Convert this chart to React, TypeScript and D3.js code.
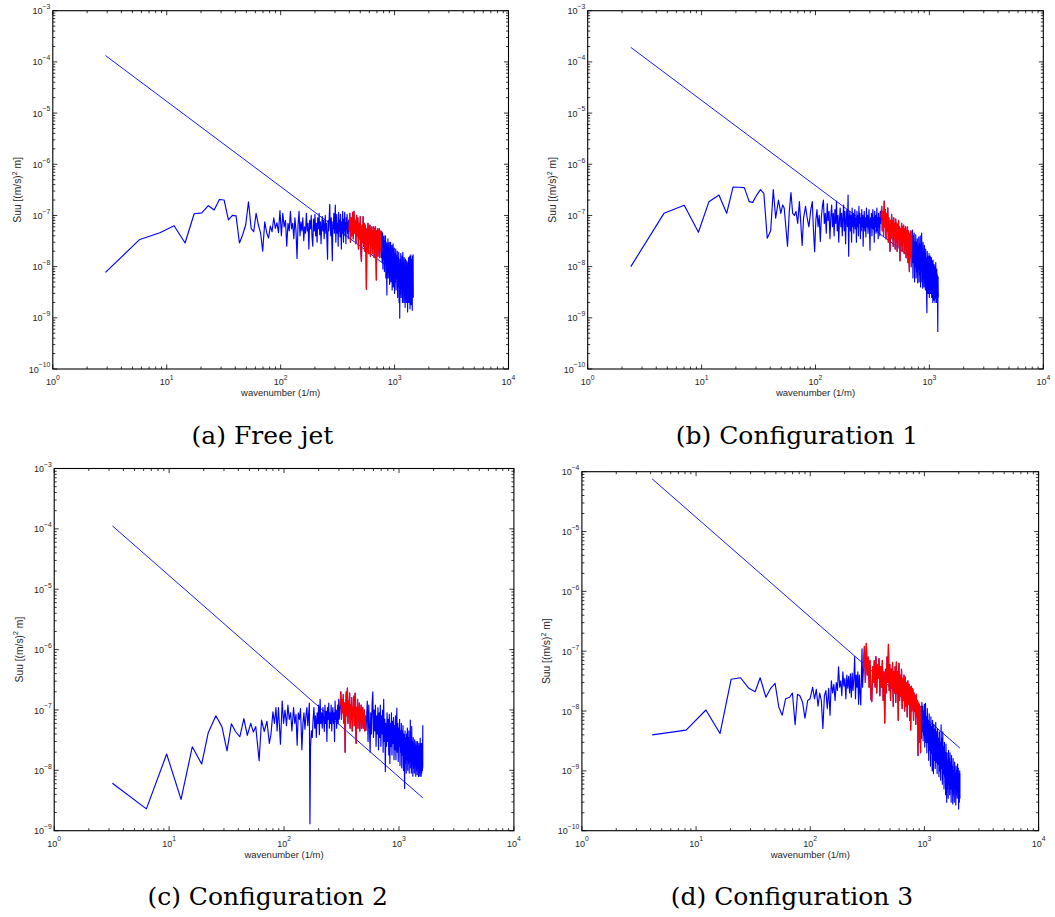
import React from 'react';
import * as d3 from 'd3';

type Pt = [number, number];

// ---------- (a) Free jet ----------
const freeJetLow: Pt[] = [[2.9,7.7e-9],[5.8,3.4e-8],[8.7,4.6e-8],[11.6,6.3e-8],[14.5,2.9e-8],[17.4,1.08e-7],[20.3,1.12e-7],[23.2,1.55e-7],[26.1,1.28e-7],[29,2.05e-7],[31.9,2.0e-7],[34.8,8.2e-8],[37.7,1.0e-7],[40.6,9.8e-8],[43.5,2.9e-8],[46.4,4.2e-8],[49.3,6.5e-8],[52.2,1.85e-7],[55.1,5.6e-8],[58,4.8e-8],[60.9,1.1e-7],[63.8,6.5e-8],[66.7,4.5e-8],[69.6,2.0e-8],[72.5,7.5e-8],[75.4,4.6e-8],[78.3,3.6e-8],[81.2,6.2e-8],[84.1,4.8e-8],[87,9e-8],[89.9,5.6e-8],[92.8,7.2e-8],[95.7,4.6e-8],[98.6,1.25e-7],
[101.5,4e-8],[104.4,1.1e-7],[107.3,6e-8],[110.2,8e-8],[113.1,2.5e-8],[116,7e-8],[118.9,5e-8],[121.8,1.2e-7],[124.7,5.5e-8],[127.6,7e-8],[130.5,3.5e-8],[133.4,9e-8],[136.3,5e-8],[139.2,1.45e-8],[142.1,6.5e-8],[145,1.2e-7],[147.9,4e-8],[150.8,7.5e-8],[153.7,5e-8],[156.6,9e-8],[159.5,3.2e-8],[162.4,6e-8],[165.3,4.5e-8],[168.2,1.1e-7],[171.1,5e-8],[174,7e-8],[176.9,2.2e-8],[179.8,8e-8],[182.7,5.5e-8],[185.6,1.0e-7],[188.5,3.8e-8],[191.4,2.5e-8],[194.3,8.5e-8],[197.2,5e-8],[200.1,1.05e-7],[203,4e-8],[205.9,7e-8],[208.8,3e-8],[211.7,9e-8],[214.6,5.5e-8],[217.5,1.1e-7],[220.4,4.2e-8],[223.3,7.5e-8],[226.2,2.8e-8],[229.1,6e-8],[232,9.5e-8],[234.9,5e-8],[237.8,8e-8],[240.7,3.5e-8],[243.6,6e-8],[246.5,1e-7],[249.4,4.5e-8],[252.3,7e-8],[255.2,3e-8],[258.1,1.4e-8],[261,8e-8],[263.9,5e-8],[266.8,9e-8],[269.7,1.65e-7],[272.6,6e-8],[275.5,4e-8],[278.4,9e-8],[281.3,3e-8],[284.2,1.3e-8],[287.1,7.5e-8],[290,5.5e-8],[293,1.1e-7],[296,4.5e-8],[299,8e-8],[302,1.6e-7],[305,3e-8],[308,6.5e-8],[311,1.05e-7],[314,4.5e-8],[317,7e-8],[320,2.5e-8],[323,1.15e-7],[326,5e-8],[329,8e-8],[332,3.8e-8],[335,1.05e-7],[338,5.5e-8],[341,2.2e-8],[344,7.5e-8],[347,4.5e-8],[350,1.2e-7],[353,6e-8],[356,3e-8],[359,8.5e-8],[362,5e-8],[365,1.15e-7],[368,4e-8],[371,7e-8],[374,2.8e-8],[377,9e-8],[380,5.5e-8],[383,1.05e-7],[386,4.5e-8],[389,7e-8],[392,3.5e-8],[395,8e-8]];
const freeJetRed: Pt[] = [[398,5e-8],[404,1.1e-7],[410,3e-8],[416,9e-8],[422,4e-8],[428,1.15e-7],[434,3.5e-8],[440,1.2e-7],[446,4.5e-8],[452,8e-8],[458,2.8e-8],[464,1.0e-7],[470,4e-8],[476,9e-8],[482,2.2e-8],[488,7e-8],[494,3.5e-8],[500,9.5e-8],[506,2e-8],[512,1.26e-8],[518,6.5e-8],[524,3e-8],[530,9.5e-8],[536,2.5e-8],[542,7e-8],[548,2e-8],[554,6.5e-8],[560,3e-8],[566,3.6e-9],[572,5.5e-8],[578,2.2e-8],[584,7e-8],[590,1.8e-8],[596,6e-8],[602,2.8e-8],[608,6.5e-8],[614,1.6e-8],[620,5.5e-8],[626,2.5e-8],[632,6e-8],[638,1.8e-8],[644,5e-8],[650,2.2e-8],[656,6e-8],[662,1.5e-8],[668,5.5e-8],[674,2.5e-8],[680,6e-8],[686,1.8e-8],[692,5.5e-9],[698,5e-8],[704,2e-8],[710,5.5e-8],[716,1.6e-8],[722,5e-8],[728,2.2e-8],[734,5.5e-8],[740,1.5e-8],[746,4.5e-8],[752,2e-8],[758,5e-8]];
const freeJetHigh: Pt[] = [[766,1.5e-8],[772,4.8e-8],[778,1.2e-8],[784,4.5e-8],[790,9e-9],[796,3.8e-8],[802,1.4e-8],[808,4e-8],[814,8e-9],[820,3.2e-8],[826,1.2e-8],[832,4e-8],[838,6e-9],[844,3e-8],[850,1e-8],[856,2.8e-9],[862,2.8e-8],[868,8e-9],[874,3.5e-8],[880,6e-9],[886,2.5e-8],[892,1e-8],[898,3e-8],[904,4.5e-9],[910,2.2e-8],[916,7e-9],[922,3e-8],[928,5e-9],[934,2e-8],[940,8e-9],[946,2.6e-8],[952,3.5e-9],[958,1.8e-8],[964,6e-9],[970,2.8e-8],[976,4e-9],[982,2e-8],[988,7e-9],[994,2.3e-8],[1000,3e-9],[1008,1.8e-8],[1016,5e-9],[1024,2.2e-8],[1032,3.5e-9],[1040,1.6e-8],[1048,6e-9],[1056,2e-8],[1064,2.5e-9],[1072,1.5e-8],[1080,4e-9],[1088,1.9e-8],[1096,2e-9],[1104,1.2e-8],[1110,9.8e-10],[1118,1.4e-8],[1126,3e-9],[1134,1.8e-8],[1142,2.5e-9],[1150,1.2e-8],[1158,4e-9],[1166,1.6e-8],[1174,2e-9],[1182,1.9e-8],[1190,3.5e-9],[1198,1.2e-8],[1206,2e-9],[1214,1.5e-8],[1222,3e-9],[1230,1.1e-8],[1238,1.6e-9],[1246,1.4e-8],[1254,3e-9],[1262,1e-8],[1270,2e-9],[1278,1.3e-8],[1286,3.5e-9],[1294,9e-9],[1302,1.3e-9],[1310,1.2e-8],[1318,2.5e-9],[1326,1.5e-8],[1334,2e-9],[1342,1e-8],[1350,3e-9],[1358,1.6e-8],[1366,1.5e-9],[1374,1.1e-8],[1382,2.8e-9],[1390,1.7e-8],[1398,1.8e-9],[1406,1.4e-8],[1414,2.2e-9],[1422,1.2e-8],[1430,1.4e-9],[1438,1.6e-8],[1446,2.5e-9],[1454,1.7e-8],[1460,2.5e-9]];
const freeJetRef: Pt[] = [[2.9,1.33e-4],[1460,4.2e-9]];

// ---------- (b) Configuration 1 ----------
const config1Low: Pt[] = [[2.39,1e-8],[4.67,1.1e-7],[7.04,1.58e-7],[9.38,4.7e-8],[11.6,1.86e-7],[14.2,2.5e-7],[16.6,1.1e-7],[18.9,3.6e-7],[21.3,3.55e-7],[23.7,3.5e-7],[26.2,1.86e-7],[28.1,1.8e-7],[30.5,2.5e-7],[32.9,3.2e-7],[35.2,2.7e-7],[37.7,3.6e-8],[40.4,5e-8],[42.6,3.2e-7],[44.7,8.8e-8],[47.3,2e-7],[49.6,1.1e-7],[51.5,1.6e-7],[53.1,1.4e-7],[56.8,2.5e-8],[58.9,1.2e-7],[60.9,2.8e-7],[63,1.1e-7],[65.2,1e-7],[67.4,1.2e-7],[69.8,7e-8],[72.2,1.86e-7],[74,8e-8],[76.3,2.6e-8],[78.6,9e-8],[81.7,1.5e-7],[84.5,9e-8],[87.5,6e-8],[90.5,1.2e-7],[93.7,1.86e-7],[96,5e-8],[98.3,1.95e-8],
[100.7,8e-8],[103,1.3e-7],[105.4,6e-8],[107.8,1e-7],[110.2,3.1e-8],[112.5,9e-8],[114.9,1.5e-7],[117.3,2e-7],[119.6,7e-8],[122,1.1e-7],[124.4,4.5e-8],[126.8,1.7e-7],[129.1,8e-8],[131.5,1.2e-7],[133.9,3.5e-8],[136.2,9e-8],[138.6,1.6e-7],[141,6e-8],[143.4,1.1e-7],[145.7,4e-8],[148.1,1.3e-7],[150.5,7e-8],[152.8,1.9e-7],[155.2,5e-8],[157.6,1e-7],[160,3e-8],[162.3,8e-8],[164.7,1.4e-7],[167.1,6e-8],[169.4,1.1e-7],[171.8,4e-8],[174.2,9e-8],[176.6,1.6e-7],[178.9,5e-8],[181.3,1.2e-7],[183.7,2.8e-8],[186,8e-8],[188.4,1.3e-7],[190.8,6e-8],[193.2,2.5e-7],[195.5,1.6e-8],[197.9,9e-8],[200.3,1.2e-7],[202.6,5e-8],[205,1e-7],[207.4,3e-8],[209.8,1.4e-7],[212.1,6e-8],[214.5,1.1e-7],[216.9,4.5e-8],[219.2,8e-8],[221.6,1.3e-7],[224,5.5e-8],[226.4,9e-8],[228.7,3e-8],[231.1,1.2e-7],[233.5,6e-8],[235.8,1e-7],[238.2,4e-8],[240.6,1.5e-7],[243,7e-8],[245.3,1.1e-7],[247.7,3.5e-8],[250.1,9e-8],[252.4,5e-8],[254.8,1.3e-7],[257.2,6e-8],[259.6,1e-7],[262,2.5e-8],[265,8e-8],[268,1.2e-7],[271,5e-8],[274,9e-8],[277,3.8e-8],[280,1.4e-7],[283,6e-8],[286,1e-7],[289,4.5e-8],[292,8e-8],[295,1.3e-7],[298,5e-8],[301,2.1e-8],[304,9e-8],[307,6e-8],[310,1.1e-7],[313,4e-8],[316,8e-8],[319,1.3e-7],[322,5.5e-8],[325,9e-8],[328,3e-8],[331,1.2e-7],[334,6e-8],[337,1e-7],[340,4.5e-8],[343,8e-8],[346,1.4e-7],[349,5e-8],[352,9e-8],[355,3.5e-8],[358,1.1e-7],[361,6e-8],[364,9e-8],[367,4e-8],[370,1.2e-7],[373,7e-8]];
const config1Red: Pt[] = [[376,9e-8],[381,1.5e-7],[386,5e-8],[391,1.2e-7],[396,4e-8],[401,1.9e-7],[406,6e-8],[411,1.3e-7],[416,3.5e-8],[421,1.1e-7],[426,5e-8],[431,1.4e-7],[436,3e-8],[441,9e-8],[446,4.5e-8],[451,2e-8],[456,8e-8],[461,3.5e-8],[466,1.05e-7],[471,4e-8],[476,8e-8],[481,2.5e-8],[486,9e-8],[491,3.5e-8],[496,7e-8],[501,2.2e-8],[506,8.5e-8],[511,3e-8],[516,7e-8],[521,2e-8],[526,6.5e-8],[531,3.5e-8],[536,8e-8],[541,2.5e-8],[546,6e-8],[552,1.3e-8],[558,5.5e-8],[564,2.5e-8],[570,7e-8],[576,2e-8],[582,6e-8],[588,3e-8],[594,6.5e-8],[600,1.8e-8],[606,5.5e-8],[612,2.5e-8],[618,6e-8],[624,1.5e-8],[630,5e-8],[636,2.2e-8],[642,6e-8],[648,1.2e-8],[654,5e-8],[660,2e-8],[667,8e-9],[674,4.5e-8],[681,1.5e-8],[688,5e-8],[694,1e-8],[699,4e-8]];
const config1High: Pt[] = [[705,1.2e-8],[711,5.2e-8],[717,6e-9],[723,4e-8],[729,1.2e-8],[735,4.5e-8],[741,5e-9],[747,3e-8],[753,1e-8],[759,4.2e-8],[765,6e-9],[771,3e-8],[777,8e-9],[783,3.5e-8],[789,4.8e-9],[795,2.5e-8],[801,9e-9],[807,3.8e-8],[813,5e-9],[819,2.8e-8],[825,7e-9],[831,4e-8],[837,4e-9],[843,2.5e-8],[849,8e-9],[855,4.5e-8],[861,5e-9],[867,2.2e-8],[873,3.8e-9],[879,3e-8],[885,6e-9],[891,2e-8],[897,4e-9],[903,2.6e-8],[909,7e-9],[915,1.8e-8],[921,3.5e-9],[927,2.2e-8],[933,5e-9],[939,1.5e-8],[945,2.5e-9],[951,1.26e-9],[957,2e-8],[963,4e-9],[969,1.6e-8],[975,3e-9],[981,1.2e-8],[987,5e-9],[993,1.8e-8],[999,2.5e-9],[1005,1.3e-8],[1011,4e-9],[1017,1.6e-8],[1023,3e-9],[1029,1.1e-8],[1035,5e-9],[1041,1.5e-8],[1047,2.5e-9],[1053,1e-8],[1059,4e-9],[1065,1.3e-8],[1071,2e-9],[1077,1.35e-8],[1083,3.5e-9],[1089,9e-9],[1095,2.2e-9],[1101,1.1e-8],[1107,3e-9],[1113,8e-9],[1119,2e-9],[1125,1e-8],[1131,2.4e-9],[1137,1.2e-8],[1143,3e-9],[1149,8e-9],[1155,2e-9],[1161,9e-9],[1167,3e-9],[1173,7e-9],[1179,2e-9],[1185,5.4e-10],[1191,6.3e-9],[1197,2.5e-9]];
const config1Ref: Pt[] = [[2.39,1.92e-4],[1197,6.1e-9]];

// ---------- (c) Configuration 2 ----------
const config2Low: Pt[] = [[3.21,6.1e-9],[6.34,2.3e-9],[9.52,1.86e-8],[12.7,3.3e-9],[15.9,2.45e-8],[19.2,1.27e-8],[21.9,4.2e-8],[25.5,8e-8],[28.8,5.3e-8],[31.9,2.1e-8],[34.8,5.9e-8],[37.8,4.4e-8],[41.2,3.6e-8],[44.7,7.2e-8],[47.9,3.8e-8],[51.3,6e-8],[54.1,4.3e-8],[56.7,5.3e-8],[60.7,1.45e-8],[63.7,6.8e-8],[67.2,4.4e-8],[71,6.5e-8],[74.5,2.8e-8],[77,4e-8],[80,9.3e-8],[82.5,6e-8],[85,1.1e-7],[87,4.5e-8],[89.4,1.1e-7],[93,2.7e-8],[96.4,1.4e-7],[99,6e-8],
[102,1e-7],[105,5.5e-8],[108,1.2e-7],[111,7e-8],[114,9e-8],[117,4.5e-8],[121,1.1e-7],[124,6e-8],[127,8.5e-8],[130,2.6e-8],[133,9e-8],[136,7e-8],[139,1.05e-7],[143,2.2e-8],[146,6e-8],[149,9e-8],[152,4.8e-8],[155,8e-8],[158,1.1e-7],[161,5.5e-8],[164,9e-8],[166,1.3e-7],[168,1.3e-9],[170,2.5e-8],[173,4.5e-8],[176,3.5e-8],[179,7e-8],[182,1.1e-7],[185,5e-8],[188,8e-8],[191,3.5e-8],[194,9e-8],[197,6e-8],[200,1.2e-7],[203,3.9e-8],[206,1.5e-7],[209,6e-8],[212,9e-8],[215,5e-8],[218,1.1e-7],[221,7e-8],[224,4.4e-8],[227,1.2e-7],[230,6e-8],[233,9.5e-8],[236,3e-8],[239,1.1e-7],[242,7e-8],[245,1.3e-7],[248,5e-8],[251,9e-8],[254,6e-8],[257,1.2e-7],[260,4.5e-8],[263,8e-8],[266,1.1e-7],[269,6e-8],[272,9e-8],[275,3e-8],[278,1.4e-7],[281,7e-8],[284,1e-7],[287,5e-8],[290,8e-8],[293,1.2e-7],[296,6e-8],[299,1.5e-7],[302,7e-8],[305,9e-8]];
const config2Red: Pt[] = [[308,1.2e-7],[312,2e-7],[316,7e-8],[320,1.5e-7],[324,9e-8],[328,1.8e-7],[332,6e-8],[336,1.3e-7],[340,2e-8],[344,1.1e-7],[348,2e-7],[352,8e-8],[356,2.3e-7],[360,6e-8],[364,1.4e-7],[368,9e-8],[372,1.9e-7],[376,5e-8],[380,1.2e-7],[384,7e-8],[388,1.6e-7],[392,4.5e-8],[396,1.1e-7],[400,8e-8],[404,1.7e-7],[408,5.5e-8],[412,1.2e-7],[416,1.9e-7],[420,6e-8],[424,2.8e-8],[428,1.1e-7],[432,7e-8],[436,1.5e-7],[440,5e-8],[444,1.1e-7],[448,8e-8],[452,1.3e-7],[456,4.5e-8],[460,1e-7],[464,6.5e-8],[468,1.2e-7],[472,5e-8],[476,9e-8],[480,6e-8],[484,1.1e-7],[488,5e-8],[492,8.5e-8],[496,6e-8],[500,1e-7],[504,4.5e-8],[508,8e-8],[512,5.5e-8],[516,4.6e-8]];
const config2High: Pt[] = [[522,7e-8],[530,1.4e-7],[538,3e-8],[546,1.2e-7],[554,5e-8],[561,2e-8],[568,9e-8],[576,4e-8],[584,1.3e-7],[592,2e-7],[600,3.5e-8],[608,1e-7],[616,4.5e-8],[624,1.2e-7],[632,2.5e-8],[640,8e-8],[648,4e-8],[656,1.1e-7],[664,2.2e-8],[672,9e-8],[680,3.5e-8],[688,1.2e-7],[696,2.5e-8],[704,8e-8],[712,4e-8],[720,1e-7],[728,2e-8],[736,1.5e-7],[744,3e-8],[752,7e-8],[761,9.5e-9],[770,6e-8],[779,2.5e-8],[788,9e-8],[797,3e-8],[806,7e-8],[815,1.8e-8],[824,8.5e-8],[833,1.3e-8],[842,6e-8],[851,2.5e-8],[860,9e-8],[869,1.8e-8],[878,6.5e-8],[887,2.8e-8],[896,7.5e-8],[905,1.5e-8],[914,5.5e-8],[923,2.2e-8],[932,8e-8],[941,1.5e-8],[950,5e-8],[958,1.07e-7],[967,2e-8],[976,6e-8],[985,1.4e-8],[994,5e-8],[1003,2.5e-8],[1012,7e-8],[1021,1.2e-8],[1030,4.5e-8],[1039,2e-8],[1048,6e-8],[1057,1.1e-8],[1066,4.5e-8],[1075,1.8e-8],[1084,5.5e-8],[1093,1e-8],[1102,4e-8],[1111,1.6e-8],[1120,5e-9],[1129,4.5e-8],[1138,1.3e-8],[1147,3.5e-8],[1156,9e-9],[1165,4e-8],[1174,1.5e-8],[1183,5e-8],[1192,1e-8],[1201,3.5e-8],[1210,1.3e-8],[1219,4.5e-8],[1228,9e-9],[1237,3e-8],[1246,1.4e-8],[1255,6.8e-8],[1264,1.1e-8],[1273,3.5e-8],[1282,9e-9],[1291,5.3e-8],[1300,1.2e-8],[1310,3e-8],[1320,8e-9],[1330,3.5e-8],[1340,1.1e-8],[1350,2.8e-8],[1360,9e-9],[1370,3.2e-8],[1380,1.2e-8],[1390,2.6e-8],[1400,8e-9],[1410,3e-8],[1420,1e-8],[1430,2.5e-8],[1440,8.5e-9],[1450,3e-8],[1460,1.1e-8],[1470,2.4e-8],[1480,7.9e-9],[1490,2.8e-8],[1500,9e-9],[1510,2.5e-8],[1520,8e-9],[1530,3.4e-8],[1540,1e-8],[1550,2.6e-8],[1560,8e-9],[1570,2.8e-8],[1580,9e-9],[1590,2.4e-8],[1600,1e-8],[1611,5.5e-8],[1611,1.1e-8]];
const config2Ref: Pt[] = [[3.21,1.12e-4],[1611,3.5e-9]];

// ---------- (d) Configuration 3 ----------
const config3Low: Pt[] = [[4.13,4e-9],[8.18,4.8e-9],[12.2,1.04e-8],[16.2,4.2e-9],[20.3,3.4e-8],[24.5,3.6e-8],[29,2.4e-8],[32.9,2.1e-8],[36.4,3.6e-8],[40.9,1.7e-8],[45,2.4e-8],[49.2,2.9e-8],[53,1.17e-8],[56.8,8.5e-9],[60.8,1.6e-8],[66,1.7e-8],[69.8,2e-8],[73.7,5.9e-9],[77.3,1.9e-8],[81.1,1.8e-8],[85.7,1.4e-8],[89.9,7.6e-9],[95,1.5e-8],[99.6,1.6e-8],
[105,2.5e-8],[109,1.6e-8],[113,2.3e-8],[117,1.2e-8],[121,2e-8],[125,1.5e-8],[129,5.1e-9],[133,1.8e-8],[137,2.2e-8],[141,1.1e-8],[145,2.4e-8],[149,8.5e-9],[153,3.2e-8],[157,2e-8],[161,2.8e-8],[165,1.5e-8],[169,3e-8],[173,2.2e-8],[177,5.5e-8],[181,2.5e-8],[185,3.2e-8],[189,1.8e-8],[193,4.5e-8],[197,2.6e-8],[201,3.5e-8],[205,1.6e-8],[209,4e-8],[213,2.4e-8],[217,3.8e-8],[221,2e-8],[225,4.2e-8],[229,1.7e-8],[233,4.3e-8],[237,2.2e-8],[241,3.5e-8],[245,8.1e-8],[249,1.6e-8],[253,4e-8],[257,2.5e-8],[261,4.5e-8],[265,1.3e-8],[269,4e-8],[273,2e-8],[277,1.26e-8],[281,4.5e-8],[284,1.1e-7],[287,2.5e-8]];
const config3Red: Pt[] = [[292,5e-8],[298,1.2e-7],[304,3e-8],[310,1.35e-7],[316,4e-8],[322,8e-8],[328,2.5e-8],[334,7e-8],[340,1.6e-8],[346,1.44e-8],[352,5.5e-8],[358,3e-8],[364,7e-8],[370,2.5e-8],[376,8.1e-8],[382,2e-8],[388,6e-8],[394,3.5e-8],[400,7.5e-8],[407,1.8e-8],[414,5.5e-8],[421,2.5e-8],[428,7e-8],[435,1.5e-8],[442,4.5e-8],[449,6.3e-9],[456,5e-8],[463,2e-8],[470,8e-8],[477,3e-8],[484,1.3e-7],[491,2.2e-8],[498,6e-8],[505,1.5e-8],[512,5e-8],[519,2.5e-8],[526,6.5e-8],[533,1.2e-8],[540,4.5e-8],[547,2e-8],[554,5.5e-8],[561,1.4e-8],[568,6.6e-8],[575,2e-8],[582,4.5e-8],[590,7e-9],[598,6.3e-8],[606,1.5e-8],[614,4e-8],[622,1.8e-8],[630,5e-8],[638,1.1e-8],[646,3.5e-8],[654,1.5e-8],[662,4e-8],[671,1e-8],[680,3.7e-8],[689,1.2e-8],[698,3e-8],[707,8e-9],[716,3.2e-8],[725,1.3e-8],[734,2.8e-8],[743,7e-9],[752,2.5e-8],[758,4.8e-9],[766,2.6e-8],[775,1e-8],[784,2.4e-8],[794,2.2e-8],[803,7e-9],[812,2e-8],[821,1e-8],[830,1.8e-8],[840,6e-9],[850,1.9e-8],[860,8e-9],[870,1.5e-8],[878,1.8e-9],[886,1.4e-8],[894,5e-9],[902,1.3e-8],[910,3e-9],[918,1.2e-8],[926,2e-9]];
const config3High: Pt[] = [[934,1.2e-8],[942,3.5e-9],[950,1.4e-8],[958,4.5e-9],[966,1.2e-8],[974,3.2e-9],[982,1e-8],[990,4e-9],[998,1.3e-8],[1006,2.5e-9],[1014,9e-9],[1022,1.35e-8],[1030,3e-9],[1040,8e-9],[1050,2e-9],[1060,1.1e-8],[1070,3e-9],[1080,7e-9],[1090,1.5e-9],[1100,9e-9],[1110,2.2e-9],[1120,6e-9],[1130,1.2e-9],[1140,8e-9],[1150,2e-9],[1160,5.5e-9],[1170,1e-9],[1180,7e-9],[1190,1.8e-9],[1200,9e-10],[1210,6e-9],[1220,1.5e-9],[1232,5e-9],[1244,1.1e-9],[1256,6.5e-9],[1268,1.4e-9],[1280,4.5e-9],[1292,9e-10],[1304,5e-9],[1316,1.3e-9],[1328,3.5e-9],[1340,8e-10],[1352,4.5e-9],[1364,1e-9],[1376,3e-9],[1388,7e-10],[1400,5.9e-9],[1412,1.1e-9],[1424,3.5e-9],[1436,6e-10],[1448,4.5e-9],[1460,9e-10],[1472,2.5e-9],[1484,5e-10],[1496,3e-9],[1508,8e-10],[1520,2e-9],[1532,4e-10],[1544,2.8e-9],[1556,6e-10],[1568,3e-10],[1580,2e-9],[1592,5e-10],[1604,1.5e-9],[1616,3.5e-10],[1628,2.2e-9],[1640,6e-10],[1652,1.6e-9],[1664,4e-10],[1676,2e-9],[1688,5e-10],[1700,1.4e-9],[1714,3e-10],[1728,1.8e-9],[1742,5e-10],[1756,1.2e-9],[1770,2.8e-10],[1784,1.6e-9],[1798,4e-10],[1812,1e-9],[1826,3e-10],[1840,1.4e-9],[1854,5e-10],[1868,9e-10],[1882,2.7e-10],[1896,1.2e-9],[1910,4e-10],[1924,1e-9],[1938,3.5e-10],[1952,1.3e-9],[1966,4.5e-10],[1980,1.1e-9],[1994,2.3e-10],[2008,9e-10],[2022,3e-10],[2036,1e-9],[2046,3.5e-10],[2046,9e-10]];
const config3Ref: Pt[] = [[4.12,7.6e-5],[2046,2.4e-9]];

// ---------- labels ----------
const captions = ['(a) Free jet', '(b) Configuration 1', '(c) Configuration 2', '(d) Configuration 3'];
const xAxisTitle = 'wavenumber (1/m)';
const xDomain: [number, number] = [1, 1e4];
const yDomains: [number, number][] = [[1e-10, 1e-3], [1e-10, 1e-3], [1e-9, 1e-3], [1e-10, 1e-4]];

interface Layout { x0: number; x1: number; y0: number; y1: number; capX: number; capY: number; }
const layouts: Layout[] = [
  { x0: 52.8, x1: 508.5, y0: 10.7, y1: 369, capX: 262.5, capY: 443.5 },
  { x0: 587.7, x1: 1043.3, y0: 10.7, y1: 369, capX: 797, capY: 443.5 },
  { x0: 54.2, x1: 513.9, y0: 468.5, y1: 830.7, capX: 267.6, capY: 905 },
  { x0: 581.9, x1: 1038.6, y0: 471.7, y1: 830.7, capX: 792, capY: 905 },
];

const panelData = [
  { low: freeJetLow, red: freeJetRed, high: freeJetHigh, ref: freeJetRef },
  { low: config1Low, red: config1Red, high: config1High, ref: config1Ref },
  { low: config2Low, red: config2Red, high: config2High, ref: config2Ref },
  { low: config3Low, red: config3Red, high: config3High, ref: config3Ref },
];

const SANS = '"Liberation Sans", Arial, Helvetica, sans-serif';
const SERIF = '"DejaVu Serif", serif';
const TXT = '#262626';

function isMajor(v: number) {
  const l = Math.log10(v);
  return Math.abs(l - Math.round(l)) < 1e-6;
}

function Panel({ idx }: { idx: number }) {
  const L = layouts[idx];
  const D = panelData[idx];
  const x = d3.scaleLog().domain(xDomain).range([L.x0, L.x1]);
  const y = d3.scaleLog().domain(yDomains[idx]).range([L.y1, L.y0]);
  const line = d3.line<Pt>().x(d => x(d[0])).y(d => y(d[1]));
  const all = [...D.low, ...D.red, ...D.high];
  const xt = x.ticks();
  const yt = y.ticks();
  const maj = 4.5, mnr = 2.5;
  return (
    <g>
      <path d={line(D.ref) || ''} fill="none" stroke="#0000ff" strokeWidth={0.9} />
      <path d={line(all) || ''} fill="none" stroke="#0000ff" strokeWidth={1.15} strokeLinejoin="round" />
      <path d={line(D.red) || ''} fill="none" stroke="#ff0000" strokeWidth={1.25} strokeLinejoin="round" />
      <rect x={L.x0} y={L.y0} width={L.x1 - L.x0} height={L.y1 - L.y0} fill="none" stroke="#000" strokeWidth={1.1} />
      {xt.map((t, i) => {
        const len = isMajor(t) ? maj : mnr;
        const px = x(t);
        return (
          <g key={'xt' + i}>
            <line x1={px} x2={px} y1={L.y1} y2={L.y1 - len} stroke="#000" strokeWidth={0.8} />
            <line x1={px} x2={px} y1={L.y0} y2={L.y0 + len} stroke="#000" strokeWidth={0.8} />
          </g>
        );
      })}
      {yt.map((t, i) => {
        const len = isMajor(t) ? maj : mnr;
        const py = y(t);
        return (
          <g key={'yt' + i}>
            <line x1={L.x0} x2={L.x0 + len} y1={py} y2={py} stroke="#000" strokeWidth={0.8} />
            <line x1={L.x1} x2={L.x1 - len} y1={py} y2={py} stroke="#000" strokeWidth={0.8} />
          </g>
        );
      })}
      {xt.filter(isMajor).map((t, i) => (
        <text key={'xl' + i} x={x(t)} y={L.y1 + 16} textAnchor="middle" fontFamily={SANS} fontSize={9} fill={TXT}>
          10<tspan dy={-5.3} fontSize={6.8}>{String(Math.round(Math.log10(t)))}</tspan>
        </text>
      ))}
      {yt.filter(isMajor).map((t, i) => (
        <text key={'yl' + i} x={L.x0 - 2.5} y={y(t) + 3.6} textAnchor="end" fontFamily={SANS} fontSize={9} fill={TXT}>
          10<tspan dy={-5.3} fontSize={6.8}>{'\u2212' + String(Math.abs(Math.round(Math.log10(t))))}</tspan>
        </text>
      ))}
      <text x={(L.x0 + L.x1) / 2} y={L.y1 + 27.3} textAnchor="middle" fontFamily={SANS} fontSize={9.5} fill={TXT}>
        {xAxisTitle}
      </text>
      <text transform={`translate(${L.x0 - 31.5},${(L.y0 + L.y1) / 2}) rotate(-90)`} textAnchor="middle" fontFamily={SANS} fontSize={10.3} fill={TXT}>
        Suu [(m/s)<tspan dy={-4.5} fontSize={7}>2</tspan><tspan dy={4.5}> m]</tspan>
      </text>
      <text x={L.capX} y={L.capY} textAnchor="middle" fontFamily={SERIF} fontSize={25} fill="#000">
        {captions[idx]}
      </text>
    </g>
  );
}

export default function App() {
  return (
    <svg width={1055} height={917} viewBox="0 0 1055 917" style={{ position: 'absolute', left: 0, top: 0, background: '#fff' }}>
      <rect x={0} y={0} width={1055} height={917} fill="#fff" />
      {[0, 1, 2, 3].map(i => <Panel key={i} idx={i} />)}
    </svg>
  );
}
